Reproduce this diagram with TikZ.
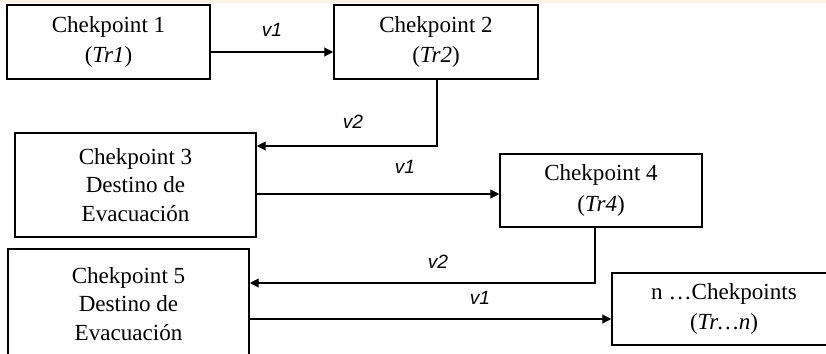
\documentclass[tikz,border=0pt]{standalone}
\usepackage{fontspec}
\setmainfont{Liberation Serif}
\newfontfamily\lblfont{Liberation Sans}
\usepackage{tikz}
\usetikzlibrary{arrows.meta, calc}

\newcommand{\pxu}{0.52pt}
\tikzset{
  ckbox/.style 2 args={draw, line width=0.8pt, align=center, inner sep=0pt,
    minimum width=#1*\pxu, minimum height=#2*\pxu,
    font=\fontsize{12}{14.8}\selectfont},
  twoline/.style={font=\fontsize{12}{16}\selectfont},
  conn/.style={-{Triangle[length=4.6pt,width=4.6pt]}, line width=0.6pt},
  vlbl/.style={font=\lblfont\itshape\fontsize{10}{12}\selectfont}
}

\begin{document}
\begin{tikzpicture}[x=0.52pt, y=-0.52pt]
  \useasboundingbox (0,0) rectangle (826,353);
  \clip (0,0) rectangle (826,353);
  \fill[orange!10] (0,0) rectangle (826,3);

  \node[ckbox={203}{74}, twoline] (c1) at (108.5,42) {Chekpoint 1\\(\textit{Tr1})};
  \node[ckbox={204}{74}, twoline] (c2) at (436,42) {Chekpoint 2\\(\textit{Tr2})};
  \node[ckbox={241}{104}] (c3) at (135.5,185) {Chekpoint 3\\Destino de\\Evacuación};
  \node[ckbox={202}{73}, twoline] (c4) at (601,190.5) {Chekpoint 4\\(\textit{Tr4})};
  \node[ckbox={241}{110}] (c5) at (128.5,304) {Chekpoint 5\\Destino de\\Evacuación};
  \node[ckbox={224}{72}, twoline] (cn) at (724,309) {n …Chekpoints\\(\textit{Tr…n})};

  \draw[conn] ($(c1.east)+(0,10)$) coordinate (p1) -- (p1 -| c2.west);
  \draw[conn] ($(c2.south)+(1,0)$) |- ($(c3.east)+(0,-39)$);
  \draw[conn] ($(c3.east)+(0,9)$) coordinate (p3) -- (p3 -| c4.west);
  \draw[conn] ($(c4.south)+(-6,0)$) |- ($(c5.east)+(0,-21)$);
  \draw[conn] ($(c5.east)+(0,15)$) coordinate (p5) -- (p5 -| cn.west);

  \node[vlbl] (l1) at (272,30) {v1};
  \node[vlbl] (l2) at (353,122) {v2};
  \node[vlbl] (l3) at (405,167) {v1};
  \node[vlbl] (l4) at (438,262) {v2};
  \node[vlbl] (l5) at (480,298) {v1};
\end{tikzpicture}
\end{document}
